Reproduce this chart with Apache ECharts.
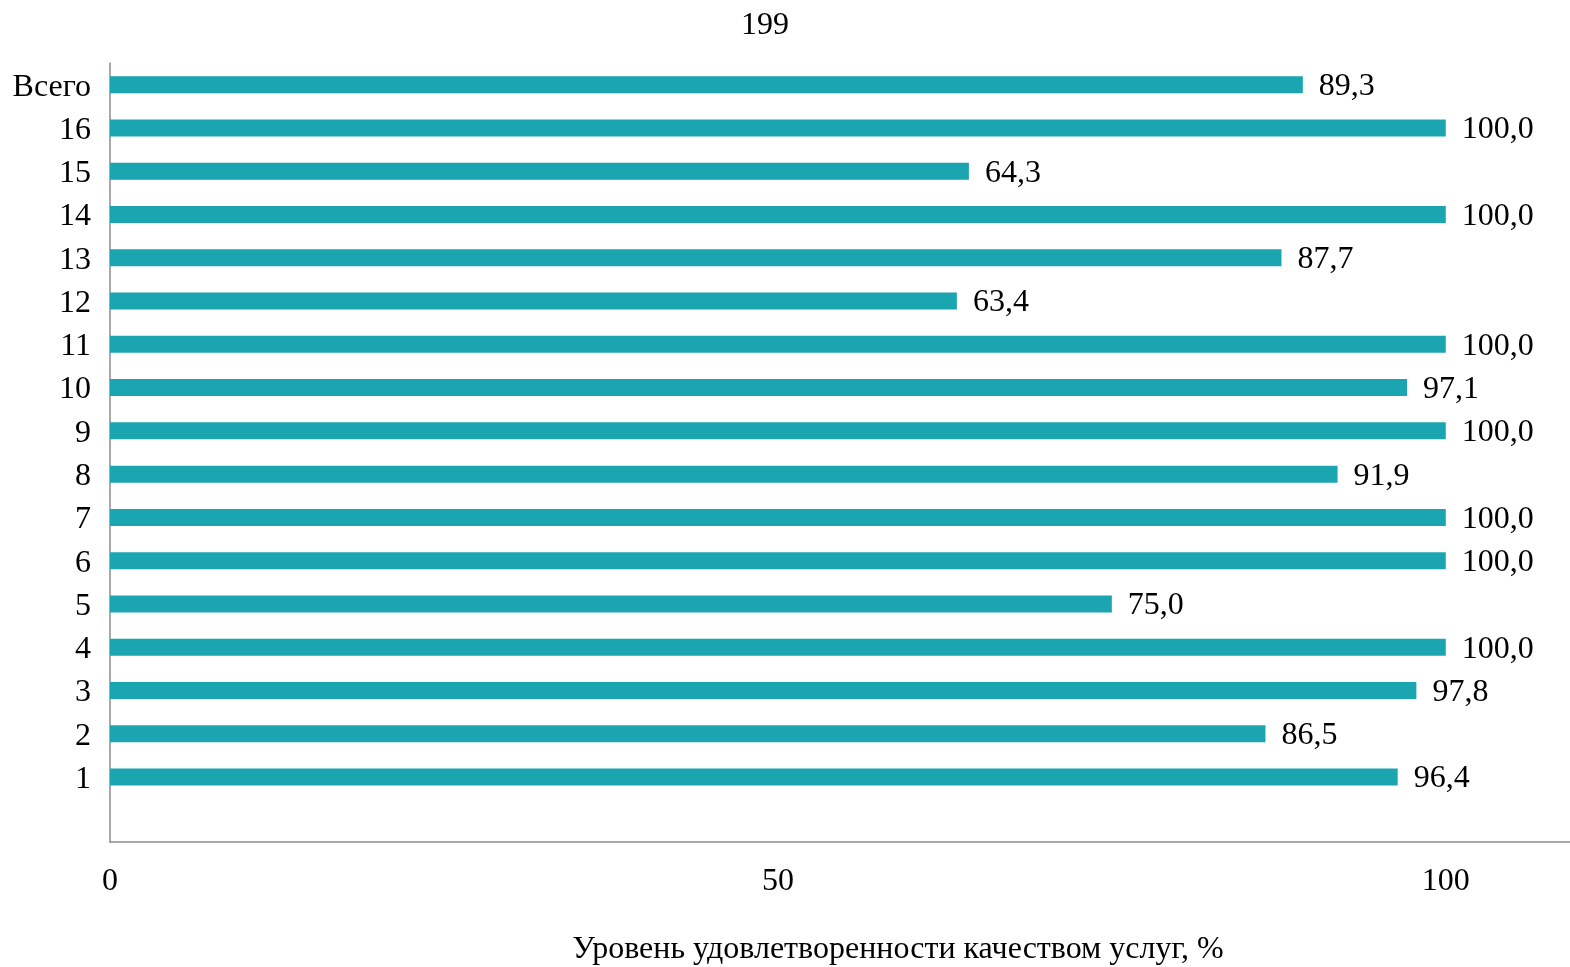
<!DOCTYPE html>
<html>
<head>
<meta charset="utf-8">
<script src="https://cdn.jsdelivr.net/npm/echarts@6/dist/echarts.min.js"></script>
<style>
html,body{margin:0;padding:0;background:#fff;}
#chart{width:1570px;height:967px;}
</style>
</head>
<body>
<div id="chart"></div>
<script>
const categories = ['', '1', '2', '3', '4', '5', '6', '7', '8', '9', '10', '11', '12', '13', '14', '15', '16', 'Всего'];
const values = [null, 96.4, 86.5, 97.8, 100.0, 75.0, 100.0, 100.0, 91.9, 100.0, 97.1, 100.0, 63.4, 87.7, 100.0, 64.3, 100.0, 89.3];
const xTicks = [0, 50, 100];
const pageTitle = '199';
const axisTitle = 'Уровень удовлетворенности качеством услуг, %';

const FONT = '"Liberation Serif", "Times New Roman", serif';
const FS = 32;
const chart = echarts.init(document.getElementById('chart'));
chart.setOption({
  animation: false,
  grid: {left: 110, top: 63, right: 0, bottom: 125},
  xAxis: {
    type: 'value', min: 0, max: 109.3, interval: 50,
    axisLine: {show: true, lineStyle: {color: '#8c8c8c', width: 1.5}},
    axisTick: {show: false},
    splitLine: {show: false},
    axisLabel: {
      showMaxLabel: false, margin: 24,
      fontFamily: FONT, fontSize: FS, color: '#000',
      formatter: v => xTicks.indexOf(v) >= 0 ? String(v) : ''
    }
  },
  yAxis: {
    type: 'category', data: categories,
    axisLine: {show: true, lineStyle: {color: '#8c8c8c', width: 1.5}},
    axisTick: {show: false},
    axisLabel: {
      margin: 19, fontFamily: FONT, fontSize: FS, color: '#000',
      formatter: v => v === '' ? '' : '{a|' + v + '}',
      rich: {a: {fontFamily: FONT, fontSize: FS, color: '#000', padding: [5, 0, 0, 0]}}
    }
  },
  series: [{
    type: 'bar', data: values, barWidth: 17,
    itemStyle: {color: '#1ba5b0'},
    label: {
      show: true, position: 'right', distance: 16, offset: [0, 2],
      fontFamily: FONT, fontSize: FS, color: '#000',
      formatter: p => p.value == null ? '' : p.value.toFixed(1).replace('.', ',')
    }
  }],
  graphic: [
    {type: 'text', x: 765, y: 26, style: {text: pageTitle, font: FS + 'px ' + FONT, fill: '#000', textAlign: 'center', textVerticalAlign: 'middle'}},
    {type: 'text', x: 898, y: 950, style: {text: axisTitle, font: FS + 'px ' + FONT, fill: '#000', textAlign: 'center', textVerticalAlign: 'middle'}}
  ]
});
</script>
</body>
</html>
